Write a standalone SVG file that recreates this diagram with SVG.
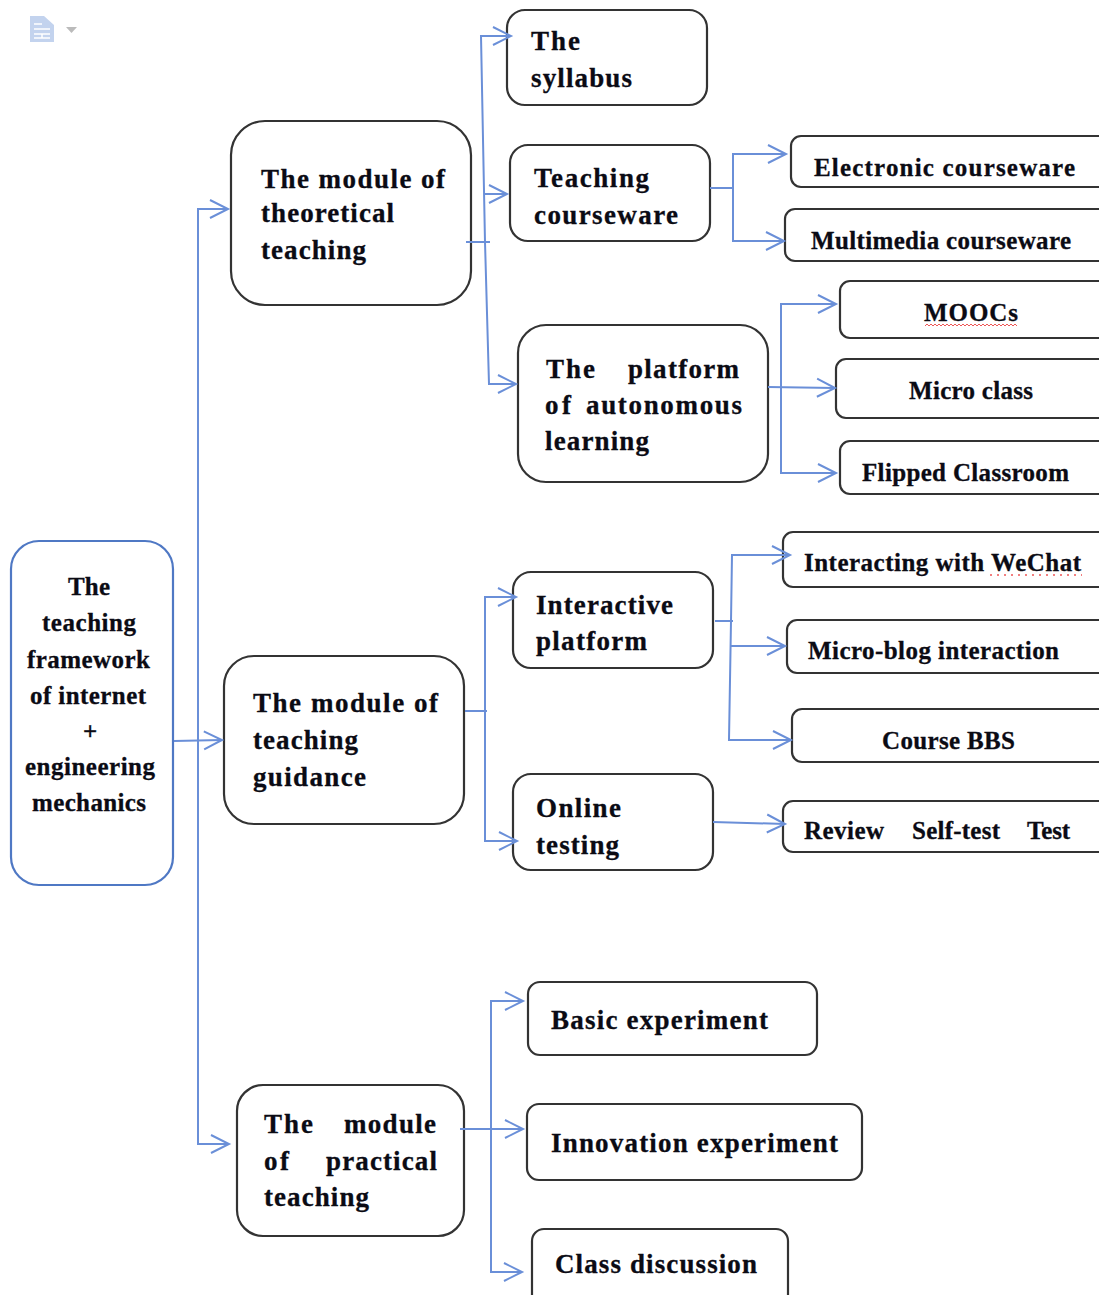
<svg xmlns="http://www.w3.org/2000/svg" width="1099" height="1295" viewBox="0 0 1099 1295">
<style>
.b{fill:#fff;stroke:#333;stroke-width:2.2}
.r{fill:#fff;stroke:#4f78c4;stroke-width:2.2}
text{font-family:"Liberation Serif","Times New Roman",serif;font-weight:bold;fill:#0b0b14;font-size:27px;stroke:#0b0b14;stroke-width:.3}
.s{font-size:25px}
#connectors path{fill:none;stroke:#6a8fd8;stroke-width:2}
</style>
<defs>
<marker id="a" markerUnits="userSpaceOnUse" markerWidth="24" markerHeight="24" refX="20" refY="12" orient="auto"><path d="M2 3L20 12L2 21" fill="none" stroke="#6a8fd8" stroke-width="2"/></marker>
</defs>
<rect width="1099" height="1295" fill="#fff"/>
<g id="doc-icon">
<path d="M30 16H44L54 25V42H30Z" fill="#c3d3ee"/>
<path d="M34 24H42M34 29H50M34 34H50M34 38H50M42 34V38" stroke="#fff" stroke-width="1.500" fill="none"/>
<path d="M66 27H77L71.500 33Z" fill="#bbb"/>
</g>
<g id="root"><rect class="r" x="11" y="541" width="162" height="344" rx="28"/>
<text class="s" x="68" y="595" textLength="42">The</text><text class="s" x="42" y="631" textLength="94">teaching</text><text class="s" x="27" y="668" textLength="123">framework</text><text class="s" x="30" y="704" textLength="116">of internet</text><text class="s" x="83" y="740">+</text><text class="s" x="25" y="775" textLength="130">engineering</text><text class="s" x="32" y="811" textLength="114">mechanics</text></g>
<g id="theoretical"><rect class="b" x="231" y="121" width="240" height="184" rx="34"/>
<text x="261" y="188" textLength="184">The module of</text><text x="261" y="222" textLength="133">theoretical</text><text x="261" y="259" textLength="105">teaching</text></g>
<g id="guidance"><rect class="b" x="224" y="656" width="240" height="168" rx="30"/>
<text x="253" y="712" textLength="185">The module of</text><text x="253" y="749" textLength="105">teaching</text><text x="253" y="786" textLength="113">guidance</text></g>
<g id="practical"><rect class="b" x="237" y="1085" width="227" height="151" rx="26"/>
<text x="264" y="1133" textLength="49">The</text><text x="344" y="1133" textLength="92">module</text><text x="264" y="1170" textLength="25">of</text><text x="326" y="1170" textLength="111">practical</text><text x="264" y="1206" textLength="105">teaching</text></g>
<g id="syllabus"><rect class="b" x="507" y="10" width="200" height="95" rx="18"/>
<text x="531" y="50" textLength="49">The</text><text x="531" y="87" textLength="101">syllabus</text></g>
<g id="courseware"><rect class="b" x="510" y="145" width="200" height="96" rx="18"/>
<text x="534" y="187" textLength="115">Teaching</text><text x="534" y="224" textLength="144">courseware</text></g>
<g id="platform"><rect class="b" x="518" y="325" width="250" height="157" rx="28"/>
<text x="546" y="378" textLength="49">The</text><text x="628" y="378" textLength="111">platform</text><text x="545" y="414" textLength="26">of</text><text x="586" y="414" textLength="156">autonomous</text><text x="545" y="450" textLength="104">learning</text></g>
<g id="electronic"><rect class="b" x="791" y="136" width="320" height="51" rx="10"/><text class="s" x="814" y="176" textLength="261">Electronic courseware</text></g>
<g id="multimedia"><rect class="b" x="785" y="209" width="326" height="52" rx="10"/><text class="s" x="811" y="249" textLength="260">Multimedia courseware</text></g>
<g id="moocs"><rect class="b" x="840" y="281" width="270" height="57" rx="10"/><text class="s" x="924" y="321" textLength="94">MOOCs</text>
<path d="M925 326l2-2 2 2 2-2 2 2 2-2 2 2 2-2 2 2 2-2 2 2 2-2 2 2 2-2 2 2 2-2 2 2 2-2 2 2 2-2 2 2 2-2 2 2 2-2 2 2 2-2 2 2 2-2 2 2 2-2 2 2 2-2 2 2 2-2 2 2 2-2 2 2 2-2 2 2 2-2 2 2 2-2 2 2 2-2 2 2 2-2 2 2" fill="none" stroke="#e55" stroke-width="1"/></g>
<g id="micro-class"><rect class="b" x="836" y="359" width="275" height="59" rx="10"/><text class="s" x="909" y="399" textLength="124">Micro class</text></g>
<g id="flipped"><rect class="b" x="840" y="441" width="270" height="53" rx="10"/><text class="s" x="862" y="481" textLength="207">Flipped Classroom</text></g>
<g id="interactive"><rect class="b" x="513" y="572" width="200" height="96" rx="18"/>
<text x="536" y="614" textLength="137">Interactive</text><text x="536" y="650" textLength="111">platform</text></g>
<g id="online"><rect class="b" x="513" y="774" width="200" height="96" rx="18"/>
<text x="536" y="817" textLength="85">Online</text><text x="536" y="854" textLength="83">testing</text></g>
<g id="wechat"><rect class="b" x="783" y="532" width="330" height="55" rx="10"/><text class="s" x="804" y="571" textLength="277">Interacting with WeChat</text>
<path d="M990 575H1082" stroke="#e55" stroke-width="1.500" stroke-dasharray="2 5" fill="none"/></g>
<g id="micro-blog"><rect class="b" x="787" y="620" width="325" height="53" rx="10"/><text class="s" x="808" y="659" textLength="251">Micro-blog interaction</text></g>
<g id="bbs"><rect class="b" x="792" y="709" width="320" height="53" rx="10"/><text class="s" x="882" y="749" textLength="133">Course BBS</text></g>
<g id="review"><rect class="b" x="783" y="801" width="330" height="51" rx="10"/><text class="s" x="804" y="839" textLength="80">Review</text><text class="s" x="912" y="839" textLength="88">Self-test</text><text class="s" x="1027" y="839" textLength="43">Test</text></g>
<g id="basic"><rect class="b" x="528" y="982" width="289" height="73" rx="12"/><text x="551" y="1029" textLength="217">Basic experiment</text></g>
<g id="innovation"><rect class="b" x="527" y="1104" width="335" height="76" rx="12"/><text x="551" y="1152" textLength="287">Innovation experiment</text></g>
<g id="discussion"><rect class="b" x="532" y="1229" width="256" height="80" rx="12"/><text x="555" y="1273" textLength="202">Class discussion</text></g>
<g id="connectors">
<path d="M174 741L222 740" marker-end="url(#a)"/>
<path d="M198 741V209H228" marker-end="url(#a)"/>
<path d="M198 741V1144H229" marker-end="url(#a)"/>
<path d="M466 242H490"/>
<path d="M485 242L481 36H511" marker-end="url(#a)"/>
<path d="M485 242L489 384H516" marker-end="url(#a)"/>
<path d="M484 194H507" marker-end="url(#a)"/>
<path d="M710 188H733"/>
<path d="M733 188V154H786" marker-end="url(#a)"/>
<path d="M733 188V241H784" marker-end="url(#a)"/>
<path d="M768 387L835 388" marker-end="url(#a)"/>
<path d="M781 387V304H836" marker-end="url(#a)"/>
<path d="M781 387V473H836" marker-end="url(#a)"/>
<path d="M465 711H487"/>
<path d="M485 711V597H516" marker-end="url(#a)"/>
<path d="M485 711V841H517" marker-end="url(#a)"/>
<path d="M715 621H733"/>
<path d="M731 621L732 555H790" marker-end="url(#a)"/>
<path d="M731 621L729 740H791" marker-end="url(#a)"/>
<path d="M730 646H785" marker-end="url(#a)"/>
<path d="M713 822L785 824" marker-end="url(#a)"/>
<path d="M460 1129H523" marker-end="url(#a)"/>
<path d="M491 1129V1001H523" marker-end="url(#a)"/>
<path d="M491 1129V1272H522" marker-end="url(#a)"/>
</g>
</svg>
